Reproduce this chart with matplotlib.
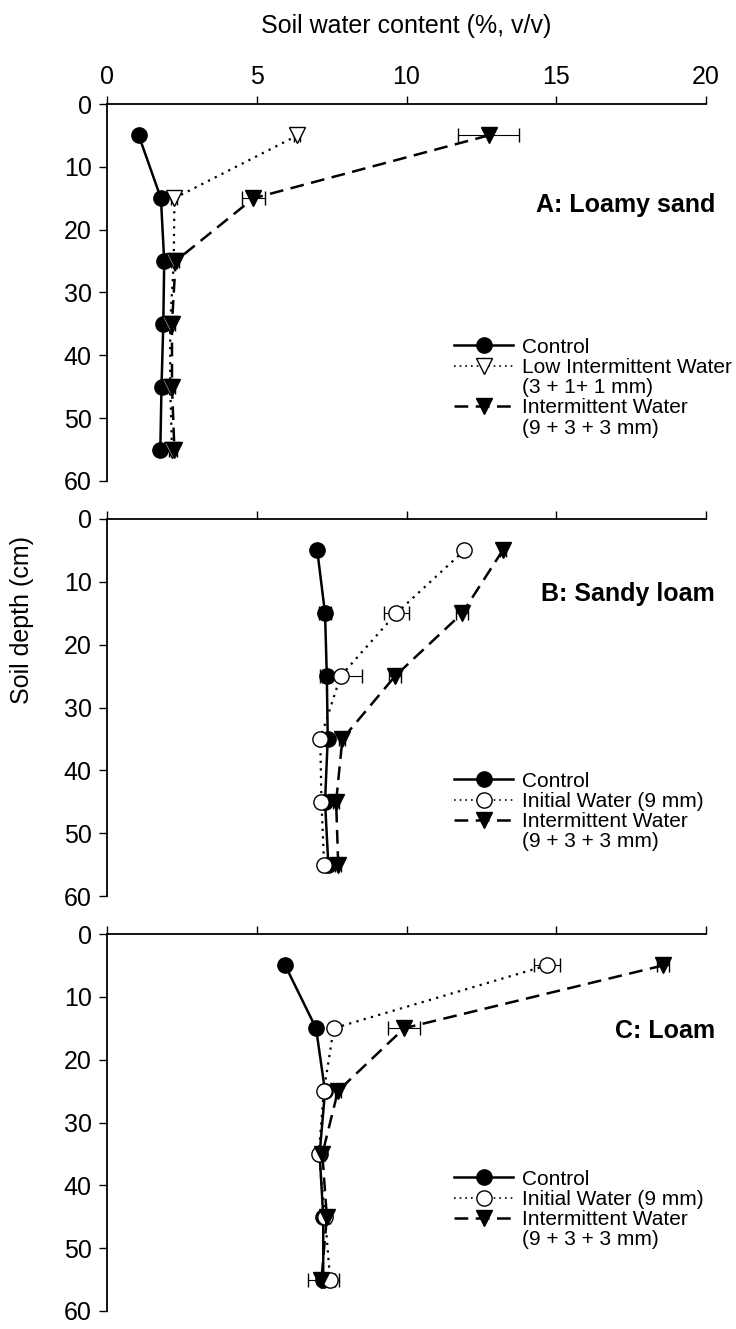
import matplotlib

matplotlib.use("Agg")
import matplotlib.pyplot as plt
from matplotlib.lines import Line2D

plt.rcParams["font.family"] = ["Liberation Sans", "DejaVu Sans"]

# sampling depths (cm), shared by all three soils
depth = [5, 15, 25, 35, 45, 55]

# A: Loamy sand
a_control = [1.06, 1.80, 1.91, 1.88, 1.82, 1.78]
a_control_se = [0.05, 0.05, 0.05, 0.05, 0.05, 0.05]
a_low = [6.36, 2.25, 2.23, 2.11, 2.11, 2.17]
a_low_se = [0.10, 0.10, 0.10, 0.10, 0.10, 0.10]
a_inter = [12.74, 4.89, 2.29, 2.17, 2.17, 2.25]
a_inter_se = [1.02, 0.38, 0.10, 0.10, 0.10, 0.10]

# B: Sandy loam
b_control = [7.02, 7.28, 7.34, 7.37, 7.28, 7.39]
b_control_se = [0.10, 0.20, 0.15, 0.10, 0.10, 0.10]
b_initial = [11.93, 9.66, 7.80, 7.12, 7.16, 7.25]
b_initial_se = [0.10, 0.41, 0.70, 0.10, 0.10, 0.10]
b_inter = [13.21, 11.86, 9.62, 7.86, 7.65, 7.72]
b_inter_se = [0.10, 0.20, 0.20, 0.10, 0.10, 0.10]

# C: Loam
c_control = [5.95, 6.98, 7.28, 7.10, 7.22, 7.22]
c_control_se = [0.10, 0.10, 0.10, 0.10, 0.10, 0.10]
c_initial = [14.69, 7.57, 7.24, 7.07, 7.28, 7.45]
c_initial_se = [0.43, 0.10, 0.10, 0.10, 0.10, 0.30]
c_inter = [18.57, 9.92, 7.71, 7.19, 7.34, 7.16]
c_inter_se = [0.20, 0.54, 0.10, 0.10, 0.10, 0.45]

x_ticks = [0, 5, 10, 15, 20]
y_ticks = [0, 10, 20, 30, 40, 50, 60]

DOT = (0, (1, 2.4))
DASH = (0, (5.5, 3))
MS = 11


def draw_series(ax, x, err, ls, marker, face, lw):
    ax.errorbar(
        x, depth, xerr=err,
        color="black", linestyle=ls, linewidth=lw,
        marker=marker, markersize=MS, markerfacecolor=face,
        markeredgecolor="black", markeredgewidth=1.0,
        ecolor="black", elinewidth=0.8, capsize=4.7, capthick=0.8,
    )


def legend_handle(ls, marker, face, lw):
    return Line2D(
        [], [], color="black", linestyle=ls, linewidth=lw,
        marker=marker, markersize=MS, markerfacecolor=face,
        markeredgecolor="black", markeredgewidth=1.0,
    )


blank = Line2D([], [], linestyle="none")

fig = plt.figure(figsize=(7.36, 13.29), dpi=100)
left, width = 107 / 736, 599 / 736
panel_tops = [104, 519, 934]
height_px = 377

panels = [
    ("A: Loamy sand", 16.0, a_control, a_control_se, a_low, a_low_se, "v",
     ["Control", "Low Intermittent Water", "(3 + 1+ 1 mm)",
      "Intermittent Water", "(9 + 3 + 3 mm)"],
     a_inter, a_inter_se, 0.38),
    ("B: Sandy loam", 12.0, b_control, b_control_se, b_initial, b_initial_se, "o",
     ["Control", "Initial Water (9 mm)", "Intermittent Water", "(9 + 3 + 3 mm)"],
     b_inter, b_inter_se, 0.33),
    ("C: Loam", 15.5, c_control, c_control_se, c_initial, c_initial_se, "o",
     ["Control", "Initial Water (9 mm)", "Intermittent Water", "(9 + 3 + 3 mm)"],
     c_inter, c_inter_se, 0.375),
]

for i, (title, title_y, ctl, ctl_se, mid, mid_se, mid_marker, labels,
        inter, inter_se, leg_y) in enumerate(panels):
    top = panel_tops[i]
    ax = fig.add_axes([left, 1 - (top + height_px) / 1329, width, height_px / 1329])

    draw_series(ax, ctl, ctl_se, "-", "o", "black", 1.8)
    draw_series(ax, mid, mid_se, DOT, mid_marker, "white", 1.6)
    draw_series(ax, inter, inter_se, DASH, "v", "black", 1.8)

    ax.set_xlim(0, 20)
    ax.set_ylim(60, 0)
    ax.set_xticks(x_ticks)
    ax.set_yticks(y_ticks)
    ax.xaxis.tick_top()
    ax.tick_params(axis="both", direction="out", length=6, width=1.0,
                   labelsize=18, pad=5)
    if i > 0:
        ax.tick_params(axis="x", labeltop=False)
    for side in ["right", "bottom"]:
        ax.spines[side].set_visible(False)
    for side in ["left", "top"]:
        ax.spines[side].set_linewidth(1.3)

    ax.text(20.3, title_y, title, ha="right", va="center",
            fontsize=18, fontweight="bold")

    h_ctl = legend_handle("-", "o", "black", 1.8)
    h_mid = legend_handle(DOT, mid_marker, "white", 1.2)
    h_inter = legend_handle(DASH, "v", "black", 1.8)
    if len(labels) == 5:
        handles = [h_ctl, h_mid, blank, h_inter, blank]
    else:
        handles = [h_ctl, h_mid, h_inter, blank]
    ax.legend(handles, labels, loc="upper left", bbox_to_anchor=(0.58, leg_y),
              frameon=False, fontsize=15, handlelength=2.8,
              handletextpad=0.45, labelspacing=0.06, borderpad=0,
              borderaxespad=0)

fig.text(406 / 736, 1 - 26 / 1329, "Soil water content (%, v/v)",
         ha="center", va="center", fontsize=18)
fig.text(22 / 736, 1 - 620 / 1329, "Soil depth (cm)", rotation=90,
         ha="center", va="center", fontsize=18)

fig.savefig("out.png", dpi=100)
